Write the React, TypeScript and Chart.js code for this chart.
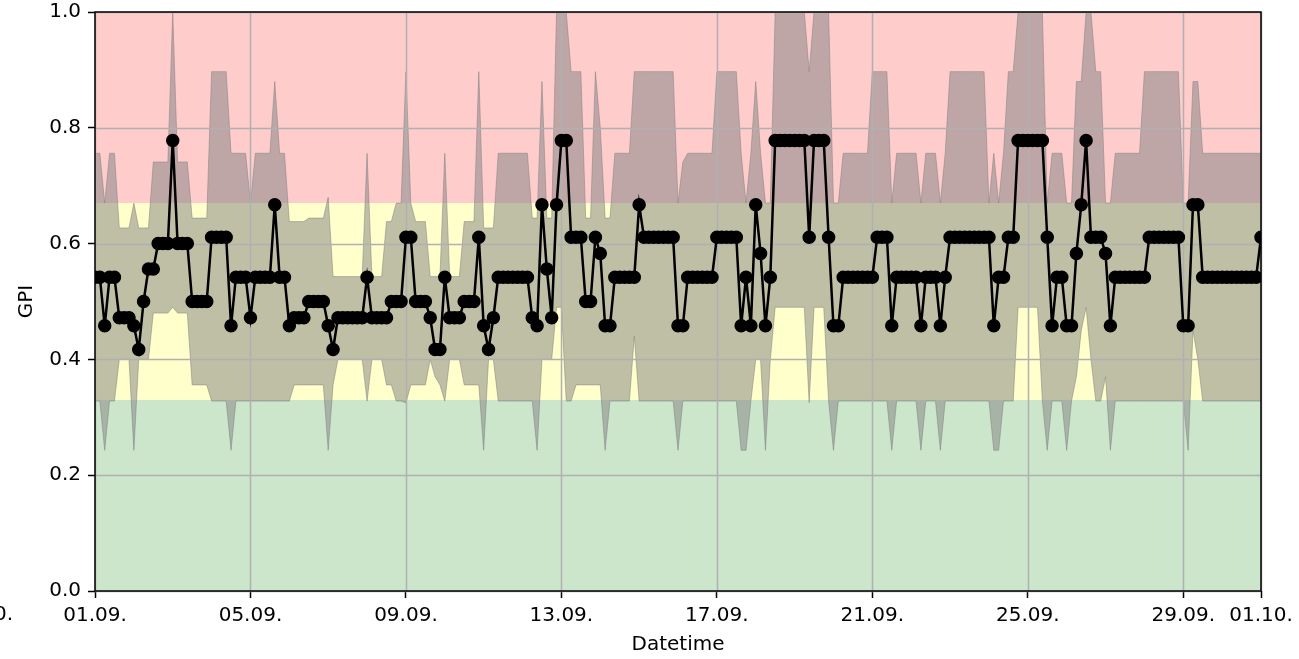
import { useEffect, useRef } from 'react';
import { Chart, registerables } from 'chart.js';

Chart.register(...registerables);

// time axis: one value every 3 hours, from 01.09. 00:00 to 01.10. 00:00 (in days)
const STEP_DAYS = 3 / 24;
const tickDays = [0, 4, 8, 12, 16, 20, 24, 28, 30];
const tickLabels = ['01.09.', '05.09.', '09.09.', '13.09.', '17.09.', '21.09.', '25.09.', '29.09.', '01.10.'];
const yTickValues = [0, 0.2, 0.4, 0.6, 0.8, 1.0];

// category bands (green / yellow / red)
const bandEdges = [0, 0.33, 0.67, 1.0];
const bandColors = ['rgba(0,128,0,0.2)', 'rgba(255,255,0,0.2)', 'rgba(255,0,0,0.2)'];

// mean GPI
const gpiMean = [
  0.542, 0.542, 0.458, 0.542, 0.542, 0.472, 0.472, 0.472, 0.458, 0.417,
  0.5, 0.556, 0.556, 0.6, 0.6, 0.6, 0.778, 0.6, 0.6, 0.6,
  0.5, 0.5, 0.5, 0.5, 0.611, 0.611, 0.611, 0.611, 0.458, 0.542,
  0.542, 0.542, 0.472, 0.542, 0.542, 0.542, 0.542, 0.667, 0.542, 0.542,
  0.458, 0.472, 0.472, 0.472, 0.5, 0.5, 0.5, 0.5, 0.458, 0.417,
  0.472, 0.472, 0.472, 0.472, 0.472, 0.472, 0.542, 0.472, 0.472, 0.472,
  0.472, 0.5, 0.5, 0.5, 0.611, 0.611, 0.5, 0.5, 0.5, 0.472,
  0.417, 0.417, 0.542, 0.472, 0.472, 0.472, 0.5, 0.5, 0.5, 0.611,
  0.458, 0.417, 0.472, 0.542, 0.542, 0.542, 0.542, 0.542, 0.542, 0.542,
  0.472, 0.458, 0.667, 0.556, 0.472, 0.667, 0.778, 0.778, 0.611, 0.611,
  0.611, 0.5, 0.5, 0.611, 0.583, 0.458, 0.458, 0.542, 0.542, 0.542,
  0.542, 0.542, 0.667, 0.611, 0.611, 0.611, 0.611, 0.611, 0.611, 0.611,
  0.458, 0.458, 0.542, 0.542, 0.542, 0.542, 0.542, 0.542, 0.611, 0.611,
  0.611, 0.611, 0.611, 0.458, 0.542, 0.458, 0.667, 0.583, 0.458, 0.542,
  0.778, 0.778, 0.778, 0.778, 0.778, 0.778, 0.778, 0.611, 0.778, 0.778,
  0.778, 0.611, 0.458, 0.458, 0.542, 0.542, 0.542, 0.542, 0.542, 0.542,
  0.542, 0.611, 0.611, 0.611, 0.458, 0.542, 0.542, 0.542, 0.542, 0.542,
  0.458, 0.542, 0.542, 0.542, 0.458, 0.542, 0.611, 0.611, 0.611, 0.611,
  0.611, 0.611, 0.611, 0.611, 0.611, 0.458, 0.542, 0.542, 0.611, 0.611,
  0.778, 0.778, 0.778, 0.778, 0.778, 0.778, 0.611, 0.458, 0.542, 0.542,
  0.458, 0.458, 0.583, 0.667, 0.778, 0.611, 0.611, 0.611, 0.583, 0.458,
  0.542, 0.542, 0.542, 0.542, 0.542, 0.542, 0.542, 0.611, 0.611, 0.611,
  0.611, 0.611, 0.611, 0.611, 0.458, 0.458, 0.667, 0.667, 0.542, 0.542,
  0.542, 0.542, 0.542, 0.542, 0.542, 0.542, 0.542, 0.542, 0.542, 0.542,
  0.611,
];

// upper envelope (max)
const gpiMax = [
  0.756, 0.756, 0.67, 0.756, 0.756, 0.627, 0.627, 0.627, 0.67, 0.627,
  0.627, 0.627, 0.741, 0.741, 0.741, 0.741, 1.0, 0.741, 0.741, 0.741,
  0.644, 0.644, 0.644, 0.644, 0.897, 0.897, 0.897, 0.897, 0.756, 0.756,
  0.756, 0.756, 0.67, 0.756, 0.756, 0.756, 0.756, 0.88, 0.756, 0.756,
  0.638, 0.638, 0.638, 0.638, 0.644, 0.644, 0.644, 0.644, 0.68, 0.543,
  0.543, 0.543, 0.543, 0.543, 0.543, 0.543, 0.756, 0.543, 0.543, 0.543,
  0.638, 0.638, 0.67, 0.67, 0.897, 0.67, 0.638, 0.638, 0.638, 0.543,
  0.543, 0.543, 0.756, 0.543, 0.543, 0.543, 0.638, 0.638, 0.638, 0.897,
  0.627, 0.627, 0.627, 0.756, 0.756, 0.756, 0.756, 0.756, 0.756, 0.756,
  0.644, 0.644, 0.88, 0.644, 0.644, 1.0, 1.0, 1.0, 0.897, 0.897,
  0.897, 0.644, 0.644, 0.897, 0.8, 0.644, 0.644, 0.756, 0.756, 0.756,
  0.756, 0.897, 0.897, 0.897, 0.897, 0.897, 0.897, 0.897, 0.897, 0.897,
  0.67, 0.741, 0.756, 0.756, 0.756, 0.756, 0.756, 0.756, 0.897, 0.897,
  0.897, 0.897, 0.897, 0.756, 0.67, 0.756, 0.88, 0.756, 0.67, 0.67,
  1.0, 1.0, 1.0, 1.0, 1.0, 1.0, 1.0, 0.897, 1.0, 1.0,
  1.0, 1.0, 0.67, 0.67, 0.756, 0.756, 0.756, 0.756, 0.756, 0.756,
  0.897, 0.897, 0.897, 0.897, 0.67, 0.756, 0.756, 0.756, 0.756, 0.756,
  0.67, 0.756, 0.756, 0.756, 0.67, 0.756, 0.897, 0.897, 0.897, 0.897,
  0.897, 0.897, 0.897, 0.897, 0.67, 0.756, 0.67, 0.756, 0.897, 0.897,
  1.0, 1.0, 1.0, 1.0, 1.0, 1.0, 0.67, 0.756, 0.756, 0.756,
  0.67, 0.67, 0.88, 0.88, 1.0, 1.0, 0.897, 0.897, 0.67, 0.67,
  0.756, 0.756, 0.756, 0.756, 0.756, 0.756, 0.897, 0.897, 0.897, 0.897,
  0.897, 0.897, 0.897, 0.897, 0.67, 0.67, 0.88, 0.88, 0.756, 0.756,
  0.756, 0.756, 0.756, 0.756, 0.756, 0.756, 0.756, 0.756, 0.756, 0.756,
  0.756,
];

// lower envelope (min)
const gpiMin = [
  0.328, 0.328, 0.243, 0.328, 0.328, 0.4, 0.4, 0.4, 0.243, 0.4,
  0.4, 0.4, 0.48, 0.48, 0.48, 0.48, 0.49, 0.48, 0.48, 0.48,
  0.356, 0.356, 0.356, 0.356, 0.328, 0.328, 0.328, 0.328, 0.243, 0.328,
  0.328, 0.328, 0.328, 0.328, 0.328, 0.328, 0.328, 0.328, 0.328, 0.328,
  0.328, 0.356, 0.356, 0.356, 0.356, 0.356, 0.356, 0.356, 0.243, 0.356,
  0.4, 0.4, 0.4, 0.4, 0.4, 0.4, 0.328, 0.4, 0.4, 0.4,
  0.356, 0.356, 0.328, 0.328, 0.325, 0.356, 0.356, 0.356, 0.356, 0.4,
  0.37, 0.356, 0.328, 0.4, 0.4, 0.4, 0.356, 0.356, 0.356, 0.356,
  0.243, 0.4, 0.4, 0.328, 0.328, 0.328, 0.328, 0.328, 0.328, 0.328,
  0.328, 0.243, 0.4, 0.4, 0.4, 0.49, 0.49, 0.328, 0.328, 0.356,
  0.356, 0.356, 0.356, 0.356, 0.356, 0.243, 0.328, 0.328, 0.328, 0.328,
  0.328, 0.44, 0.328, 0.328, 0.328, 0.328, 0.328, 0.328, 0.328, 0.328,
  0.243, 0.328, 0.328, 0.328, 0.328, 0.328, 0.328, 0.328, 0.328, 0.328,
  0.328, 0.328, 0.328, 0.243, 0.243, 0.328, 0.4, 0.4, 0.243, 0.4,
  0.49, 0.49, 0.49, 0.49, 0.49, 0.49, 0.49, 0.325, 0.49, 0.49,
  0.49, 0.328, 0.243, 0.328, 0.328, 0.328, 0.328, 0.328, 0.328, 0.328,
  0.328, 0.328, 0.328, 0.328, 0.243, 0.328, 0.328, 0.328, 0.328, 0.328,
  0.243, 0.328, 0.328, 0.328, 0.243, 0.328, 0.328, 0.328, 0.328, 0.328,
  0.328, 0.328, 0.328, 0.328, 0.328, 0.243, 0.243, 0.328, 0.328, 0.328,
  0.49, 0.49, 0.49, 0.49, 0.49, 0.328, 0.243, 0.328, 0.328, 0.328,
  0.243, 0.328, 0.37, 0.45, 0.49, 0.4, 0.328, 0.328, 0.37, 0.243,
  0.328, 0.328, 0.328, 0.328, 0.328, 0.328, 0.328, 0.328, 0.328, 0.328,
  0.328, 0.328, 0.328, 0.328, 0.328, 0.243, 0.45, 0.4, 0.328, 0.328,
  0.328, 0.328, 0.328, 0.328, 0.328, 0.328, 0.328, 0.328, 0.328, 0.328,
  0.328,
];

const FONT = 'DejaVu Sans';
const FONT_SIZE = 20;
const toPoints = (vals: number[]) => vals.map((v, i) => ({ x: i * STEP_DAYS, y: v }));

const decorPlugin = {
  id: 'decor',
  beforeDraw(chart: any) {
    const { ctx, chartArea: a, scales } = chart;
    const y = scales.y;
    ctx.save();
    for (let k = 0; k < bandColors.length; k++) {
      const top = y.getPixelForValue(bandEdges[k + 1]);
      const bot = y.getPixelForValue(bandEdges[k]);
      ctx.fillStyle = bandColors[k];
      ctx.fillRect(a.left, top, a.right - a.left, bot - top);
    }
    ctx.restore();
  },
  beforeDatasetDraw(chart: any, args: any) {
    if (args.index !== 0) return;
    const { ctx, chartArea: a, scales } = chart;
    ctx.save();
    ctx.strokeStyle = '#b0b0b0';
    ctx.lineWidth = 1.5;
    ctx.beginPath();
    for (const d of tickDays) {
      const px = Math.round(scales.x.getPixelForValue(d)) + 0.5;
      ctx.moveTo(px, a.top);
      ctx.lineTo(px, a.bottom);
    }
    for (const v of yTickValues) {
      const py = Math.round(scales.y.getPixelForValue(v)) + 0.5;
      ctx.moveTo(a.left, py);
      ctx.lineTo(a.right, py);
    }
    ctx.stroke();
    ctx.restore();
  },
  afterDatasetsDraw(chart: any) {
    const { ctx, chartArea: a } = chart;
    ctx.save();
    ctx.strokeStyle = '#000';
    ctx.lineWidth = 1.5;
    ctx.strokeRect(a.left, a.top, a.right - a.left, a.bottom - a.top);
    ctx.restore();
  },
  afterDraw(chart: any) {
    const { ctx } = chart;
    ctx.save();
    ctx.fillStyle = '#000';
    ctx.font = `${FONT_SIZE}px "${FONT}"`;
    ctx.textAlign = 'right';
    ctx.textBaseline = 'top';
    ctx.fillText('0.', 13, 605);
    ctx.restore();
  },
};

export default function App() {
  const ref = useRef<HTMLCanvasElement>(null);
  useEffect(() => {
    document.body.style.margin = '0';
    const chart = new Chart(ref.current as HTMLCanvasElement, {
      type: 'line',
      data: {
        datasets: [
          {
            label: 'GPI',
            data: toPoints(gpiMean),
            borderColor: '#000',
            borderWidth: 2.5,
            pointRadius: 6,
            pointBackgroundColor: '#000',
            pointBorderColor: '#000',
            pointBorderWidth: 1.5,
            fill: false,
            tension: 0,
          },
          {
            label: 'max',
            data: toPoints(gpiMax),
            borderColor: 'rgba(128,128,128,0.5)',
            borderWidth: 1,
            backgroundColor: 'rgba(128,128,128,0.5)',
            pointRadius: 0,
            fill: '+1',
            tension: 0,
          },
          {
            label: 'min',
            data: toPoints(gpiMin),
            borderColor: 'rgba(128,128,128,0.5)',
            borderWidth: 1,
            pointRadius: 0,
            fill: false,
            tension: 0,
          },
        ],
      },
      options: {
        responsive: false,
        animation: false,
        devicePixelRatio: 1,
        events: [],
        layout: { padding: { left: 0, right: 38, top: 12, bottom: 0 } },
        plugins: { legend: { display: false }, tooltip: { enabled: false } },
        scales: {
          x: {
            type: 'linear',
            min: 0,
            max: 30,
            afterBuildTicks: (scale: any) => {
              scale.ticks = tickDays.map((v) => ({ value: v }));
            },
            afterFit: (scale: any) => {
              scale.height = 68;
              scale.paddingLeft = 0;
              scale.paddingRight = 0;
            },
            ticks: {
              autoSkip: false,
              maxRotation: 0,
              minRotation: 0,
              color: '#000',
              padding: 6,
              font: { family: FONT, size: FONT_SIZE },
              callback: (v: any) => {
                const k = tickDays.indexOf(Number(v));
                return k >= 0 ? tickLabels[k] : '';
              },
            },
            grid: {
              display: true,
              drawOnChartArea: false,
              drawTicks: true,
              tickLength: 7,
              tickWidth: 1.5,
              tickColor: '#000',
            },
            border: { display: false },
            title: {
              display: true,
              text: 'Datetime',
              color: '#000',
              font: { family: FONT, size: FONT_SIZE },
              padding: { top: 0, bottom: 2 },
            },
          },
          y: {
            type: 'linear',
            min: 0,
            max: 1,
            afterFit: (scale: any) => {
              scale.width = 95;
              scale.paddingTop = 0;
              scale.paddingBottom = 0;
            },
            ticks: {
              stepSize: 0.2,
              color: '#000',
              padding: 7,
              font: { family: FONT, size: FONT_SIZE },
              callback: (v: any) => Number(v).toFixed(1),
            },
            grid: {
              display: true,
              drawOnChartArea: false,
              drawTicks: true,
              tickLength: 7,
              tickWidth: 1.5,
              tickColor: '#000',
            },
            border: { display: false },
            title: {
              display: true,
              text: 'GPI',
              color: '#000',
              font: { family: FONT, size: FONT_SIZE },
              padding: { top: 15, bottom: 0 },
            },
          },
        },
      },
      plugins: [decorPlugin],
    } as any);
    return () => chart.destroy();
  }, []);
  return (
    <canvas
      ref={ref}
      width={1299}
      height={659}
      style={{ display: 'block', width: '1299px', height: '659px' }}
    />
  );
}
